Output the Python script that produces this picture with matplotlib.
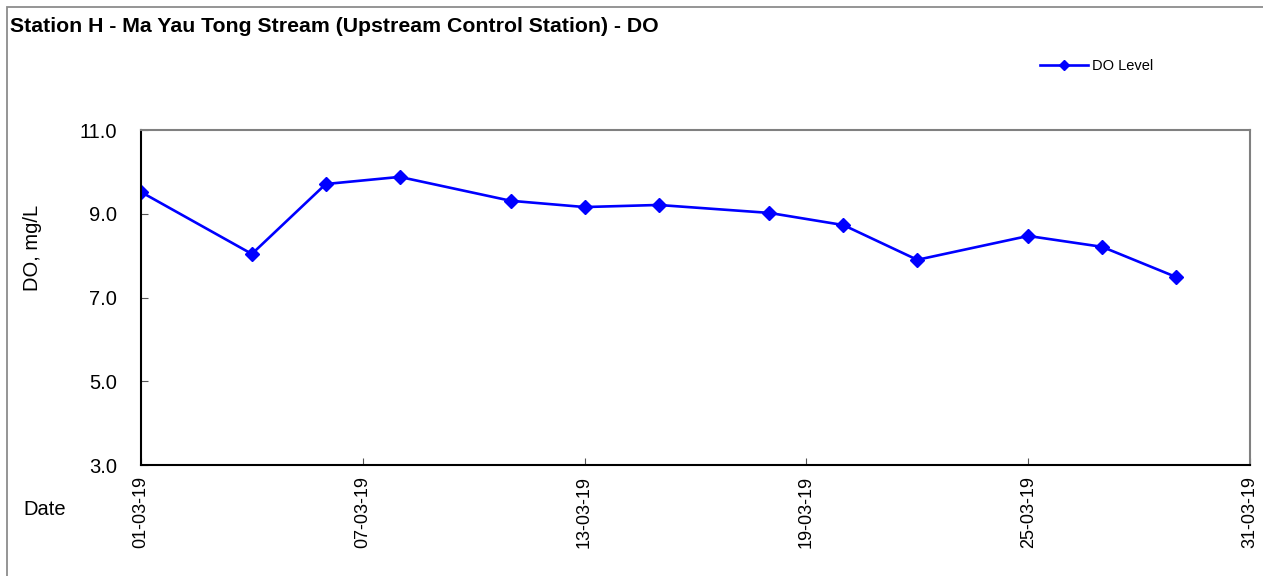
import matplotlib
matplotlib.use('Agg')
import matplotlib.pyplot as plt
import pandas as pd
from matplotlib.patches import Rectangle

# data
dates = ['2019-03-01', '2019-03-04', '2019-03-06', '2019-03-08', '2019-03-11',
         '2019-03-13', '2019-03-15', '2019-03-18', '2019-03-20', '2019-03-22',
         '2019-03-25', '2019-03-27', '2019-03-29']
do_level = [9.52, 8.04, 9.71, 9.88, 9.31, 9.16, 9.21, 9.02, 8.73, 7.90, 8.47, 8.21, 7.49]
yticks = [3.0, 5.0, 7.0, 9.0, 11.0]

dates = pd.to_datetime(dates)

plt.rcParams['font.family'] = ['Liberation Sans', 'DejaVu Sans']

fig = plt.figure(figsize=(12.63, 5.76), dpi=100)
ax = fig.add_axes([0.1116, 0.1927, 0.8781, 0.5816])

# outer frame of the chart (right/bottom edges fall outside the image)
fig.patches.append(Rectangle((7 / 1263, -0.2), 1.2, 1.2 - 7 / 576,
                             transform=fig.transFigure, fill=False,
                             edgecolor='#8c8c8c', linewidth=1.3))

ax.plot(dates, do_level, color='#0000ff', linewidth=1.9, marker='D', markersize=7,
        label='DO Level')

ax.set_xlim(pd.Timestamp('2019-03-01'), pd.Timestamp('2019-03-31'))
ax.set_ylim(3, 11)
ax.set_yticks(yticks)
ax.set_yticklabels([f'{v:.1f}' for v in yticks], fontsize=14.5)

xt = pd.date_range('2019-03-01', '2019-03-31', freq='6D')
ax.set_xticks(xt)
ax.set_xticklabels([d.strftime('%d-%m-%y') for d in xt], rotation=90, fontsize=13)

ax.tick_params(direction='in', length=5, width=0.8, color='#555555')
ax.tick_params(axis='y', pad=17)
ax.tick_params(axis='x', pad=8)

for s in ['top', 'right']:
    ax.spines[s].set_color('#808080')
    ax.spines[s].set_linewidth(1.5)
for s in ['left', 'bottom']:
    ax.spines[s].set_color('black')
    ax.spines[s].set_linewidth(1.5)

fig.text(33 / 1263, 0.569, 'DO, mg/L', fontsize=14.5, rotation=90,
         va='center', ha='center')

fig.text(10 / 1263, 0.954, 'Station H - Ma Yau Tong Stream (Upstream Control Station) - DO',
         fontsize=15.3, fontweight='bold', va='center', ha='left')
fig.text(23 / 1263, 0.116, 'Date', fontsize=14.5, va='center', ha='left')

leg = fig.legend(loc='center left', bbox_to_anchor=(1040 / 1263, 1 - 66 / 576),
                 frameon=False, fontsize=10.5, handlelength=3.3, handletextpad=0.3,
                 borderpad=0, borderaxespad=0)
for h in leg.legend_handles:
    h.set_markersize(5)

fig.savefig('out.png', dpi=100)
